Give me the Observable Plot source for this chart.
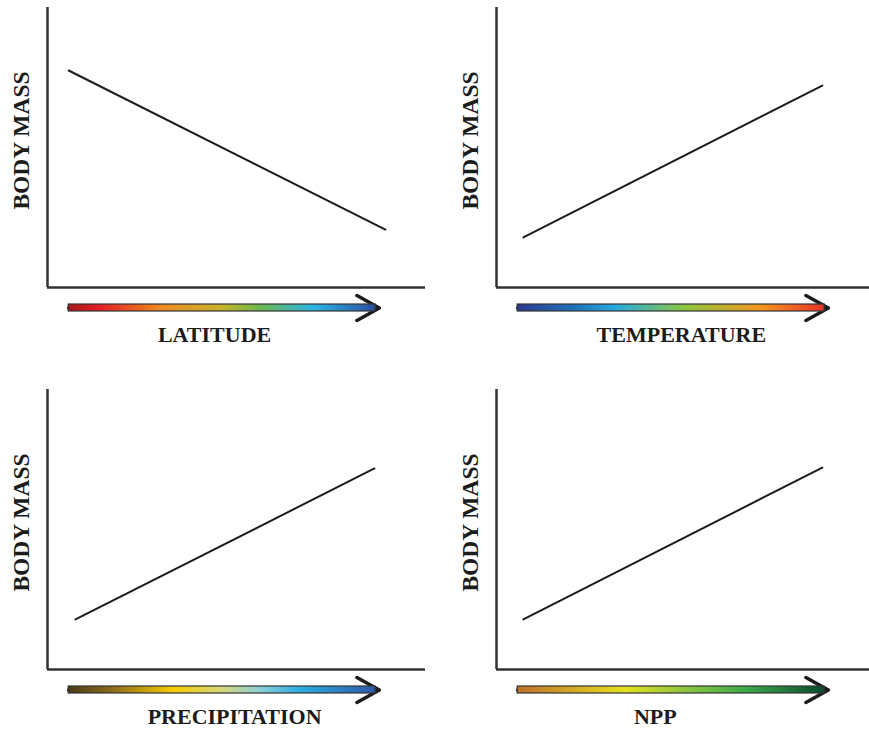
<!DOCTYPE html>
<html>
<head>
<meta charset="utf-8">
<script src="https://cdn.jsdelivr.net/npm/d3@7"></script>
<script src="https://cdn.jsdelivr.net/npm/@observablehq/plot@0.6"></script>
<style>
  html, body { margin: 0; padding: 0; background: #fff; overflow: hidden; }
  #wrap { position: relative; width: 869px; height: 733px; overflow: hidden; }
  .panel { position: absolute; width: 434px; height: 382px; }
  .panel svg { max-width: none !important; }
</style>
</head>
<body>
<div id="wrap"></div>
<script>
// ---- data ----
const panels = ["LATITUDE", "TEMPERATURE", "PRECIPITATION", "NPP"];
const yLabel = "BODY MASS";
const xStart = [0.056, 0.071, 0.074, 0.071];
const xEnd   = [0.894, 0.862, 0.865, 0.862];
const yStart = [0.775, 0.179, 0.179, 0.179];
const yEnd   = [0.207, 0.721, 0.718, 0.721];
const gradientStops = [
  [[0, "#a8181c"], [0.1, "#e31e24"], [0.3, "#ef8a20"], [0.5, "#c9b22c"], [0.62, "#6cb84a"], [0.8, "#2cb4e6"], [1, "#2a4f9e"]],
  [[0, "#2b3990"], [0.18, "#1f6fb8"], [0.32, "#27aae1"], [0.55, "#8dc63f"], [0.8, "#f7941d"], [1, "#e8322a"]],
  [[0, "#4a3a1a"], [0.14, "#8a6a1a"], [0.34, "#f5cc00"], [0.5, "#d6d878"], [0.62, "#8fd0d8"], [0.76, "#29abe2"], [1, "#2e59a8"]],
  [[0, "#c0702a"], [0.35, "#e6e020"], [0.55, "#8cc63f"], [0.75, "#3aa84a"], [1, "#0a4a2c"]]
];
const labelX = [0.442, 0.489, 0.495, 0.420];

// ---- layout ----
const offsets = [[0, 0], [449, 0], [0, 382], [449, 382]];
const W = 434, H = 382;
const font = "'Liberation Serif', 'Times New Roman', serif";
const ink = "#1c1c1c";

panels.forEach((name, i) => {
  const gid = "grad" + i;
  const defs = () => {
    const d = d3.create("svg:defs");
    const g = d.append("linearGradient").attr("id", gid)
      .attr("x1", "0%").attr("x2", "100%").attr("y1", "0%").attr("y2", "0%");
    gradientStops[i].forEach(([o, c]) => g.append("stop").attr("offset", o).attr("stop-color", c));
    return d.node();
  };
  const seg = [{x: xStart[i], y: yStart[i]}, {x: xEnd[i], y: yEnd[i]}];
  const chart = Plot.plot({
    width: W,
    height: H,
    marginLeft: 47,
    marginRight: 9,
    marginTop: 7,
    marginBottom: 95,
    x: {domain: [0, 1], axis: null},
    y: {domain: [0, 1], axis: null},
    style: {background: "transparent", overflow: "visible", maxWidth: "none"},
    marks: [
      defs,
      Plot.ruleX([0], {stroke: "#333", strokeWidth: 2.5}),
      Plot.ruleY([0], {stroke: "#333", strokeWidth: 2.5}),
      Plot.line(seg, {x: "x", y: "y", stroke: ink, strokeWidth: 2}),
      Plot.arrow([{x1: 0.056, x2: 0.878, y: -0.0732}], {
        x1: "x1", x2: "x2", y1: "y", y2: "y",
        stroke: ink, strokeWidth: 3.5, headLength: 11, headAngle: 58
      }),
      Plot.rect([{x1: 0.056, x2: 0.868, y1: -0.0607, y2: -0.0857}], {
        x1: "x1", x2: "x2", y1: "y1", y2: "y2",
        fill: `url(#${gid})`, stroke: "#333", strokeWidth: 1.2
      }),
      Plot.text([name], {
        x: labelX[i], y: -0.168, text: d => d,
        fontFamily: font, fontWeight: "bold", fontSize: 22, fill: ink,
        textAnchor: "middle", lineAnchor: "middle"
      }),
      Plot.text([yLabel], {
        x: -0.068, y: 0.525, text: d => d, rotate: -90,
        fontFamily: font, fontWeight: "bold", fontSize: 23.5, fill: ink,
        textAnchor: "middle", lineAnchor: "middle"
      })
    ]
  });
  const div = document.createElement("div");
  div.className = "panel";
  div.style.left = offsets[i][0] + "px";
  div.style.top = offsets[i][1] + "px";
  div.appendChild(chart);
  document.getElementById("wrap").appendChild(div);
});
</script>
</body>
</html>
